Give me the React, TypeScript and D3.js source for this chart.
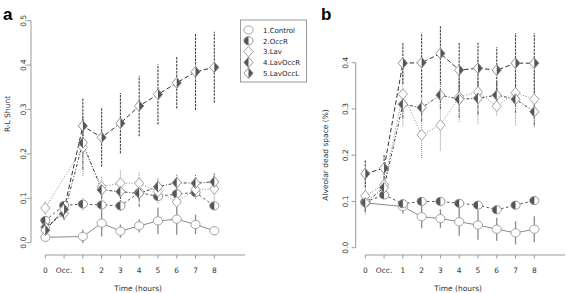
import React from "react";
import * as d3 from "d3";

const xLabels = ["0", "Occ.", "1", "2", "3", "4", "5", "6", "7", "8"];
const seriesNames = ["1.Control", "2.OccR", "3.Lav", "4.LavOccR", "5.LavOccL"];

// Panel a: R-L Shunt
const ctrlA = [0.012, null, 0.014, 0.044, 0.026, 0.038, 0.049, 0.053, 0.041, 0.027];
const ctrlASd = [0.01, null, 0.015, 0.03, 0.015, 0.015, 0.03, 0.035, 0.022, 0.01];
const occrA = [0.05, 0.084, 0.087, 0.085, 0.083, 0.113, 0.104, 0.11, 0.113, 0.083];
const occrASd = [0.01, 0.01, 0.015, 0.02, 0.012, 0.02, 0.015, 0.015, 0.015, 0.008];
const lavA = [0.078, null, 0.215, 0.126, 0.134, 0.134, 0.115, 0.092, 0.12, 0.121];
const lavASd = [0.015, null, 0.065, 0.025, 0.03, 0.025, 0.02, 0.03, 0.02, 0.035];
const lavOccRA = [0.035, 0.066, 0.225, 0.119, 0.115, 0.111, 0.126, 0.135, 0.134, 0.137];
const lavOccRASd = [0.01, 0.015, 0.06, 0.02, 0.03, 0.03, 0.02, 0.02, 0.02, 0.02];
const lavOccLA = [0.028, 0.075, 0.263, 0.237, 0.269, 0.308, 0.334, 0.36, 0.385, 0.395];
const lavOccLASd = [0.01, 0.015, 0.062, 0.066, 0.068, 0.068, 0.068, 0.058, 0.086, 0.08];

// Panel b: Alveolar dead space
const ctrlB = [0.097, null, 0.089, 0.067, 0.063, 0.056, 0.049, 0.04, 0.032, 0.04];
const ctrlBSd = [0.015, null, 0.015, 0.025, 0.02, 0.03, 0.032, 0.025, 0.025, 0.028];
const occrB = [0.099, 0.114, 0.095, 0.1, 0.1, 0.096, 0.092, 0.082, 0.092, 0.102];
const occrBSd = [0.01, 0.008, 0.005, 0.005, 0.005, 0.005, 0.005, 0.005, 0.005, 0.005];
const lavB = [0.112, 0.136, 0.332, 0.244, 0.265, 0.326, 0.337, 0.306, 0.335, 0.321];
const lavBSd = [0.04, 0.02, 0.07, 0.05, 0.055, 0.055, 0.07, 0.02, 0.07, 0.06];
const lavOccRB = [0.097, 0.13, 0.31, 0.303, 0.33, 0.321, 0.323, 0.33, 0.321, 0.294];
const lavOccRBSd = [0.02, 0.02, 0.03, 0.03, 0.03, 0.04, 0.035, 0.03, 0.03, 0.03];
const lavOccLB = [0.16, 0.172, 0.399, 0.4, 0.42, 0.384, 0.388, 0.384, 0.399, 0.399];
const lavOccLBSd = [0.03, 0.03, 0.045, 0.065, 0.06, 0.06, 0.055, 0.05, 0.065, 0.065];

const yTicksA = [0, 0.1, 0.2, 0.3, 0.4, 0.5];
const yTicksB = [0, 0.1, 0.2, 0.3, 0.4];

const FONT = "'DejaVu Sans', Verdana, sans-serif";

type Style = { shape: string; fill: string; line: string; dash: string; stroke: string; bar: string };
const styles: Style[] = [
  { shape: "circle-open", fill: "none", line: "#8a8a8a", dash: "", stroke: "#9a9a9a", bar: "#8a8a8a" },
  { shape: "circle-halfL", fill: "#555", line: "#555", dash: "2.5,2.5", stroke: "#8a8a8a", bar: "#9a9a9a" },
  { shape: "diamond-open", fill: "none", line: "#8a8a8a", dash: "1,1.8", stroke: "#9a9a9a", bar: "#9a9a9a" },
  { shape: "diamond-halfL", fill: "#555", line: "#444", dash: "1,1.8,3,1.8", stroke: "#8a8a8a", bar: "#666" },
  { shape: "diamond-halfR", fill: "#555", line: "#333", dash: "4.5,2.5", stroke: "#8a8a8a", bar: "#444" },
];

function Marker({ x, y, shape, fill, stroke }: any) {
  if (shape.startsWith("circle")) {
    const rx = 4.6, ry = 4.1;
    return (
      <g>
        <ellipse cx={x} cy={y} rx={rx} ry={ry} fill="white" stroke="none" />
        {shape === "circle-halfL" && (
          <path d={`M${x},${y - ry} A${rx},${ry} 0 0 0 ${x},${y + ry} Z`} fill={fill} />
        )}
        <ellipse cx={x} cy={y} rx={rx} ry={ry} fill="none" stroke={stroke} strokeWidth={0.9} />
      </g>
    );
  }
  const hw = 4.6, hh = 5.4;
  const pts = `${x},${y - hh} ${x + hw},${y} ${x},${y + hh} ${x - hw},${y}`;
  let half = null;
  if (shape === "diamond-halfL") half = `${x},${y - hh} ${x},${y + hh} ${x - hw},${y}`;
  if (shape === "diamond-halfR") half = `${x},${y - hh} ${x + hw},${y} ${x},${y + hh}`;
  return (
    <g>
      <polygon points={pts} fill="white" />
      {half && <polygon points={half} fill={fill} />}
      <polygon points={pts} fill="none" stroke={stroke} strokeWidth={0.9} />
    </g>
  );
}

function Panel({ data, sds, x0, x1, yBottom, yTop, yMax, yTicks, axisX, labelX, yTitle, yTitleX, yTitleY, axisEnd, letter, letterX }: any) {
  const x = d3.scaleLinear().domain([0, 9]).range([x0, x1]);
  const y = d3.scaleLinear().domain([0, yMax]).range([yBottom, yTop]);
  const xAxisY = 255;
  const line = d3.line<any>().x((d) => x(d.i)).y((d) => y(d.v));
  const pts = data.map((arr: any[]) =>
    arr.map((v, i) => ({ v, i })).filter((d) => d.v !== null)
  );
  return (
    <g fontFamily={FONT}>
      <text x={letterX} y={20} fontSize={17} fontWeight="bold" fontFamily="'Liberation Sans', Arial, sans-serif">{letter}</text>
      {/* y axis */}
      <line x1={axisX} x2={axisX} y1={y(0)} y2={y(yMax)} stroke="#999" strokeWidth={1} />
      {yTicks.map((t: number) => (
        <g key={t}>
          <line x1={axisX - 4} x2={axisX} y1={y(t)} y2={y(t)} stroke="#999" />
          <text transform={`translate(${labelX},${y(t)}) rotate(-90)`} textAnchor="middle" fontSize={7.5} fill="#333">
            {t.toFixed(1)}
          </text>
        </g>
      ))}
      <text transform={`translate(${yTitleX},${yTitleY}) rotate(-90)`} textAnchor="middle" fontSize={7.5} fill="#333">
        {yTitle}
      </text>
      {/* x axis */}
      <line x1={x(0)} x2={axisEnd} y1={xAxisY} y2={xAxisY} stroke="#999" />
      {xLabels.map((l, i) => (
        <g key={l}>
          <line x1={x(i)} x2={x(i)} y1={xAxisY} y2={xAxisY + 3.5} stroke="#999" />
          <text x={x(i)} y={272.5} textAnchor="middle" fontSize={7.5} fill="#333">{l}</text>
        </g>
      ))}
      <text x={(x(0) + axisEnd) / 2 - 7} y={291} textAnchor="middle" fontSize={7.5} fill="#333">Time (hours)</text>
      {/* error bars */}
      {data.map((arr: any[], s: number) =>
        arr.map((v, i) =>
          v === null ? null : (
            <line key={`e${s}-${i}`} x1={x(i)} x2={x(i)} y1={y(v - sds[s][i])} y2={y(v + sds[s][i])}
              stroke={styles[s].bar} strokeWidth={s === 0 ? 1.3 : 1.1}
              strokeDasharray={s === 0 ? "" : s === 4 ? "2.5,1" : s === 3 ? "3,1,1,1" : "1,1"} />
          )
        )
      )}
      {/* lines */}
      {pts.map((p: any[], s: number) => (
        <path key={`l${s}`} d={line(p) as string} fill="none" stroke={styles[s].line} strokeWidth={1}
          strokeDasharray={styles[s].dash} />
      ))}
      {/* markers */}
      {pts.map((p: any[], s: number) =>
        p.map((d) => (
          <Marker key={`m${s}-${d.i}`} x={x(d.i)} y={y(d.v)} shape={styles[s].shape} fill={styles[s].fill} stroke={styles[s].stroke} />
        ))
      )}
    </g>
  );
}

function Legend() {
  const rows = [30, 40.8, 51.6, 62.4, 73.2];
  return (
    <g fontFamily={FONT}>
      <rect x={240.5} y={20} width={66} height={62} fill="white" stroke="#999" />
      {seriesNames.map((n, i) => (
        <g key={n}>
          <Marker x={248.5} y={rows[i]} shape={styles[i].shape} fill={styles[i].fill} stroke={styles[i].stroke} />
          <text x={263} y={rows[i] + 2.7} fontSize={7} fill="#222">{n}</text>
        </g>
      ))}
    </g>
  );
}

export default function App() {
  return (
    <svg width={567} height={293} style={{ position: "absolute", left: 0, top: 0, background: "white" }}>
      <Panel
        data={[ctrlA, occrA, lavA, lavOccRA, lavOccLA]}
        sds={[ctrlASd, occrASd, lavASd, lavOccRASd, lavOccLASd]}
        x0={45.3} x1={214.3} yBottom={242.7} yTop={20.7} yMax={0.5} yTicks={yTicksA}
        axisX={31} labelX={25.5} yTitle="R-L Shunt" yTitleX={10} yTitleY={114} axisEnd={245}
        letter="a" letterX={3}
      />
      <Legend />
      <Panel
        data={[ctrlB, occrB, lavB, lavOccRB, lavOccLB]}
        sds={[ctrlBSd, occrBSd, lavBSd, lavOccRBSd, lavOccLBSd]}
        x0={365.3} x1={534.3} yBottom={247.7} yTop={62.7} yMax={0.4} yTicks={yTicksB}
        axisX={355.7} labelX={347.5} yTitle="Alveolar dead space (%)" yTitleX={328} yTitleY={155} axisEnd={565}
        letter="b" letterX={321}
      />
    </svg>
  );
}
